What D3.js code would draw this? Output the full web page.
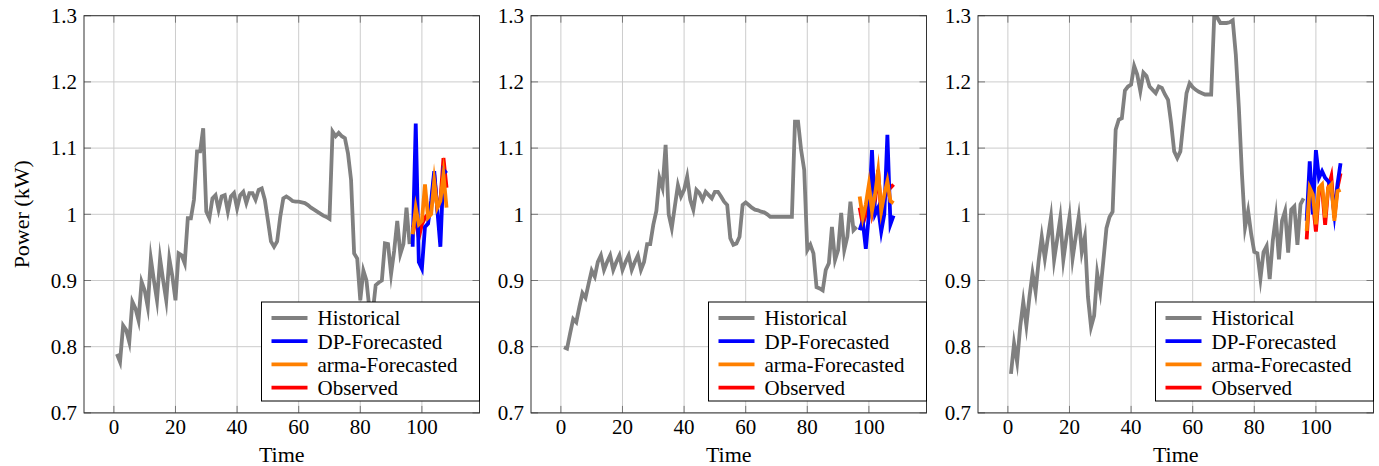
<!DOCTYPE html>
<html><head><meta charset="utf-8">
<script src="https://cdn.jsdelivr.net/npm/d3@7"></script>
<style>body{margin:0;background:#fff}</style>
</head><body>
<svg id="c" width="1379" height="466" font-family="Liberation Serif"></svg>
<script>
// ---------- data ----------
const histTime = [1,2,3,4,5,6,7,8,9,10,11,12,13,14,15,16,17,18,19,20,21,22,23,24,25,26,27,28,29,30,31,32,33,34,35,36,37,38,39,40,41,42,43,44,45,46,47,48,49,50,51,52,53,54,55,56,57,58,59,60,61,62,63,64,65,66,67,68,69,70,71,72,73,74,75,76,77,78,79,80,81,82,83,84,85,86,87,88,89,90,91,92,93,94,95,96];
const fcTime = [97,98,99,100,101,102,103,104,105,106,107,108];

const hist1 = [0.789,0.777,0.832,0.825,0.807,0.868,0.858,0.840,0.898,0.885,
0.860,0.933,0.900,0.870,0.933,0.900,0.870,0.933,0.906,0.870,
0.941,0.938,0.926,0.994,0.994,1.022,1.095,1.095,1.130,1.004,
0.994,1.024,1.029,1.007,1.027,1.029,1.004,1.027,1.032,1.009,
1.029,1.034,1.017,1.032,1.032,1.022,1.037,1.039,1.022,0.991,
0.959,0.951,0.959,0.996,1.024,1.027,1.024,1.020,1.019,1.019,
1.018,1.017,1.014,1.010,1.007,1.004,1.001,0.998,0.996,0.993,
1.125,1.118,1.123,1.118,1.115,1.092,1.052,0.941,0.933,0.870,
0.915,0.900,0.855,0.850,0.893,0.897,0.900,0.956,0.955,0.910,
0.945,0.990,0.940,0.955,1.010,0.955];
const dp1   = [0.951,1.137,0.928,0.918,0.981,0.986,1.020,1.065,1.007,0.951,1.067,1.062];
const arma1 = [0.970,1.010,0.985,0.990,1.045,0.995,1.000,1.050,1.010,1.020,1.060,1.010];
const obs1  = [0.980,0.990,0.965,0.985,0.995,1.000,1.010,1.060,1.010,1.020,1.085,1.040];

const hist2 = [0.799,0.797,0.820,0.842,0.837,0.860,0.881,0.874,0.895,0.915,
0.906,0.928,0.938,0.916,0.928,0.938,0.916,0.928,0.938,0.916,
0.928,0.938,0.916,0.928,0.938,0.916,0.928,0.955,0.955,0.984,
1.005,1.055,1.040,1.105,1.000,0.979,1.012,1.044,1.027,1.037,
1.057,1.022,1.007,1.037,1.032,1.022,1.034,1.029,1.024,1.034,
1.034,1.027,1.019,1.014,0.964,0.954,0.956,0.966,1.014,1.018,
1.014,1.010,1.007,1.006,1.004,1.003,1.000,0.996,0.996,0.996,
0.996,0.996,0.996,0.996,0.996,1.140,1.140,1.097,1.067,0.946,
0.954,0.941,0.890,0.888,0.885,0.916,0.926,0.981,0.931,0.946,
1.002,0.946,0.966,1.019,0.976,0.981];
const dp2   = [0.976,0.990,0.948,1.000,1.097,1.000,1.010,0.974,1.000,1.120,0.985,0.998];
const arma2 = [1.027,0.995,1.015,1.045,1.005,1.030,1.065,1.005,1.030,1.050,1.020,1.017];
const obs2  = [1.010,0.985,1.000,1.030,1.000,1.020,1.067,1.000,1.020,1.040,1.040,1.045];

const hist3 = [0.759,0.805,0.777,0.830,0.868,0.832,0.875,0.911,0.883,0.930,
0.966,0.933,0.965,0.996,0.931,0.962,0.994,0.931,0.965,0.996,
0.933,0.965,0.996,0.943,0.966,0.875,0.830,0.847,0.911,0.883,
0.930,0.979,0.996,1.004,1.128,1.143,1.145,1.187,1.193,1.196,
1.224,1.211,1.186,1.214,1.209,1.193,1.188,1.183,1.193,1.191,
1.181,1.173,1.138,1.095,1.085,1.095,1.140,1.183,1.198,1.192,
1.188,1.185,1.183,1.181,1.181,1.181,1.300,1.297,1.289,1.289,
1.289,1.290,1.293,1.241,1.160,1.060,0.980,1.005,0.970,0.943,
0.941,0.903,0.943,0.952,0.902,0.960,0.996,0.932,0.990,1.005,
0.942,1.007,1.012,0.954,1.015,1.024];
const dp3   = [0.990,1.080,1.000,1.097,1.055,1.065,1.055,1.050,1.040,1.000,1.045,1.077];
const arma3 = [0.975,1.040,1.030,0.985,1.040,1.045,0.995,1.040,1.045,0.990,1.035,1.037];
const obs3  = [0.962,1.040,1.020,0.974,1.035,1.040,0.984,1.040,1.057,0.995,1.040,1.062];

const yTicks = [0.7,0.8,0.9,1.0,1.1,1.2,1.3];
const yTickLabels = ["0.7","0.8","0.9","1","1.1","1.2","1.3"];
const xTicks = [0,20,40,60,80,100];
const seriesNames = ["Historical","DP-Forecasted","arma-Forecasted","Observed"];
const seriesColors = ["#808080","#0000ff","#ff8000","#ff0000"];
const xLabel = "Time";
const yLabel = "Power (kW)";

// ---------- layout ----------
const FONT = "Liberation Serif";
const svg = d3.select("#c");
const panelLefts = [84, 531, 978];
const pw = 395.5, plotTop = 15.7, plotBottom = 412.9;
const xDomain = [1 - 10.7, 108 + 10.7];

const panels = [
  {hist: hist1, dp: dp1, arma: arma1, obs: obs1},
  {hist: hist2, dp: dp2, arma: arma2, obs: obs2},
  {hist: hist3, dp: dp3, arma: arma3, obs: obs3}
];

panels.forEach((p, i) => {
  const left = panelLefts[i];
  const x = d3.scaleLinear().domain(xDomain).range([left, left + pw]);
  const y = d3.scaleLinear().domain([0.7, 1.3]).range([plotBottom, plotTop]);
  const g = svg.append("g");

  // grid
  g.selectAll(".gx").data(xTicks).enter().append("line")
    .attr("x1", d => x(d)).attr("x2", d => x(d)).attr("y1", plotTop).attr("y2", plotBottom)
    .attr("stroke", "#cccccc").attr("stroke-width", 1);
  g.selectAll(".gy").data(yTicks).enter().append("line")
    .attr("x1", left).attr("x2", left + pw).attr("y1", d => y(d)).attr("y2", d => y(d))
    .attr("stroke", "#cccccc").attr("stroke-width", 1);

  // ticks (inward, all sides)
  const tl = 7, tc = "#777";
  xTicks.forEach(t => {
    g.append("line").attr("x1", x(t)).attr("x2", x(t)).attr("y1", plotBottom).attr("y2", plotBottom - tl).attr("stroke", tc);
    g.append("line").attr("x1", x(t)).attr("x2", x(t)).attr("y1", plotTop).attr("y2", plotTop + tl).attr("stroke", tc);
  });
  yTicks.forEach(t => {
    g.append("line").attr("x1", left).attr("x2", left + tl).attr("y1", y(t)).attr("y2", y(t)).attr("stroke", tc);
    g.append("line").attr("x1", left + pw).attr("x2", left + pw - tl).attr("y1", y(t)).attr("y2", y(t)).attr("stroke", tc);
  });

  // clip
  const cid = "clip" + i;
  svg.append("defs").append("clipPath").attr("id", cid)
    .append("rect").attr("x", left).attr("y", plotTop).attr("width", pw).attr("height", plotBottom - plotTop);

  const line = d3.line().x(d => x(d[0])).y(d => y(d[1]));
  const lg = g.append("g").attr("clip-path", `url(#${cid})`)
    .attr("fill", "none").attr("stroke-width", 3.8).attr("stroke-linejoin", "miter").attr("stroke-miterlimit", 10);

  lg.append("path").attr("d", line(histTime.map((t, k) => [t, p.hist[k]]))).attr("stroke", seriesColors[0]);
  lg.append("path").attr("d", line(fcTime.map((t, k) => [t, p.obs[k]]))).attr("stroke", seriesColors[3]);
  lg.append("path").attr("d", line(fcTime.map((t, k) => [t, p.dp[k]]))).attr("stroke", seriesColors[1]);
  lg.append("path").attr("d", line(fcTime.map((t, k) => [t, p.arma[k]]))).attr("stroke", seriesColors[2]);

  // frame
  g.append("rect").attr("x", left).attr("y", plotTop).attr("width", pw).attr("height", plotBottom - plotTop)
    .attr("fill", "none").attr("stroke", "#333").attr("stroke-width", 1);

  // tick labels
  g.selectAll(".xl").data(xTicks).enter().append("text")
    .attr("x", d => x(d)).attr("y", 434).attr("text-anchor", "middle")
    .attr("font-family", FONT).attr("font-size", 21).text(d => d);
  g.selectAll(".yl").data(yTicks).enter().append("text")
    .attr("x", left - 7).attr("y", d => y(d)).attr("dy", "0.35em").attr("text-anchor", "end")
    .attr("font-family", FONT).attr("font-size", 21).text((d, k) => yTickLabels[k]);

  // axis label
  g.append("text").attr("x", left + pw / 2).attr("y", 462).attr("text-anchor", "middle")
    .attr("font-family", FONT).attr("font-size", 22).text(xLabel);
  if (i === 0) {
    g.append("text").attr("transform", `translate(29,${(plotTop + plotBottom) / 2}) rotate(-90)`)
      .attr("text-anchor", "middle").attr("font-family", FONT).attr("font-size", 22).text(yLabel);
  }

  // legend
  const lw = 218, ly = 302, rowH = 23.2;
  const lx = left + pw - lw;
  const leg = g.append("g");
  leg.append("rect").attr("x", lx).attr("y", ly).attr("width", lw).attr("height", 99)
    .attr("fill", "#fff").attr("stroke", "#000").attr("stroke-width", 1);
  seriesNames.forEach((name, k) => {
    const cy = ly + 16 + k * rowH;
    leg.append("line").attr("x1", lx + 10).attr("x2", lx + 46).attr("y1", cy).attr("y2", cy)
      .attr("stroke", seriesColors[k]).attr("stroke-width", 3.8);
    leg.append("text").attr("x", lx + 56).attr("y", cy).attr("dy", "0.35em")
      .attr("font-family", FONT).attr("font-size", 21).text(name);
  });
});
</script>
</body></html>
